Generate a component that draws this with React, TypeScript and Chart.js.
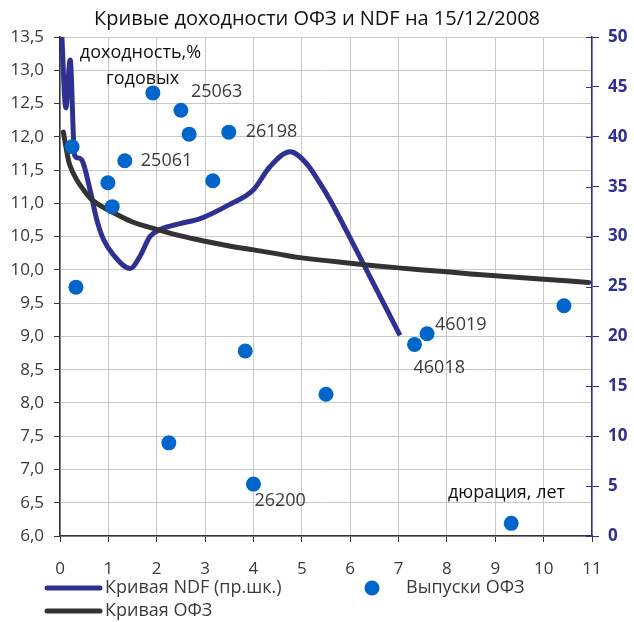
import React, { useEffect, useRef } from "react";
import { Chart, registerables } from "chart.js";

Chart.register(...registerables);

const TITLE = "Кривые доходности ОФЗ и NDF на 15/12/2008";

// OFZ issues: duration (years) and yield (%)
const issueDur = [0.25, 0.33, 0.99, 1.08, 1.34, 1.92, 2.25, 2.5, 2.67, 3.16, 3.49, 3.83, 4.0, 5.5, 7.33, 7.59, 9.33, 10.42];
const issueYield = [11.85, 9.74, 11.31, 10.95, 11.64, 12.66, 7.4, 12.4, 12.04, 11.34, 12.07, 8.78, 6.78, 8.13, 8.88, 9.04, 6.19, 9.46];
const issueNames = ["", "", "", "", "25061", "", "", "25063", "", "", "26198", "", "26200", "", "46018", "46019", "", ""];

// OFZ yield curve (left axis)
const ofzDur = [0.07, 0.14, 0.2, 0.34, 0.5, 0.62, 0.8, 1.0, 1.5, 2.0, 2.5, 3.0, 3.5, 4.0, 4.5, 5.0, 6.0, 7.0, 8.0, 9.0, 10.0, 10.93];
const ofzYield = [12.07, 11.78, 11.58, 11.36, 11.19, 11.08, 10.98, 10.9, 10.72, 10.61, 10.51, 10.43, 10.36, 10.3, 10.24, 10.18, 10.1, 10.03, 9.97, 9.91, 9.86, 9.81];

// NDF curve (right axis)
const ndfDur = [0.03, 0.12, 0.21, 0.3, 0.36, 0.46, 0.62, 0.76, 0.9, 1.1, 1.45, 1.65, 1.86, 2.07, 2.48, 2.9, 3.5, 4.0, 4.34, 4.76, 5.1, 5.38, 5.58, 6.27, 7.03];
const ndfYield = [51.0, 42.9, 47.7, 38.2, 37.9, 37.6, 34.7, 31.7, 29.7, 28.2, 26.8, 28.0, 30.0, 30.7, 31.3, 31.8, 33.2, 34.7, 37.0, 38.5, 37.3, 35.3, 33.7, 27.3, 20.1];

const LABEL_NDF = "Кривая NDF (пр.шк.)";
const LABEL_OFZ = "Кривая ОФЗ";
const LABEL_ISSUES = "Выпуски ОФЗ";

const NDF_COLOR = "#2e3192";
const OFZ_COLOR = "#333333";
const DOT_COLOR = "#0066cc";
const TEXT_COLOR = "#3a3a3a";
const GRID_COLOR = "#c8c8c8";
const FONT = '"Open Sans", "Noto Sans", sans-serif';

const LABEL_OFFSETS: Record<string, [number, number]> = {
  "25061": [16, 0],
  "25063": [10, -18],
  "26198": [17, 0],
  "26200": [1, 17],
  "46018": [-1, 23],
  "46019": [8, -9],
};

const ANNOTATIONS = [
  { text: "доходность,%", x: 0.41, y: 13.26 },
  { text: "годовых", x: 0.95, y: 12.87 },
  { text: "дюрация, лет", x: 8.02, y: 6.65 },
];

const overlayPlugin = {
  id: "overlay",
  afterDatasetsDraw(chart: any) {
    const { ctx, chartArea } = chart;
    const x = chart.scales.x;
    const y = chart.scales.y;
    const y2 = chart.scales.y2;
    ctx.save();
    ctx.strokeStyle = NDF_COLOR;
    ctx.lineWidth = 1;
    y2.ticks.forEach((t: any) => {
      const py = Math.round(y2.getPixelForValue(t.value)) + 0.5;
      ctx.beginPath();
      ctx.moveTo(chartArea.right - 6, py);
      ctx.lineTo(chartArea.right, py);
      ctx.stroke();
    });
    ctx.font = `18px ${FONT}`;
    ctx.fillStyle = TEXT_COLOR;
    ctx.textAlign = "left";
    ctx.textBaseline = "middle";
    issueNames.forEach((n, i) => {
      if (!n) return;
      const off = LABEL_OFFSETS[n] || [16, 0];
      ctx.fillText(n, x.getPixelForValue(issueDur[i]) + off[0], y.getPixelForValue(issueYield[i]) + off[1]);
    });
    ctx.fillStyle = "#111111";
    ANNOTATIONS.forEach((a) => {
      ctx.fillText(a.text, x.getPixelForValue(a.x), y.getPixelForValue(a.y));
    });
    ctx.restore();
  },
  afterDraw(chart: any) {
    const { ctx } = chart;
    const ds = chart.data.datasets;
    const find = (l: string) => ds.find((d: any) => d.label === l);
    ctx.save();
    ctx.font = `18px ${FONT}`;
    ctx.textAlign = "left";
    ctx.textBaseline = "middle";
    const drawLineItem = (label: string, yy: number) => {
      const d = find(label);
      ctx.strokeStyle = d.borderColor;
      ctx.lineWidth = 5;
      ctx.lineCap = "round";
      ctx.beginPath();
      ctx.moveTo(47, yy);
      ctx.lineTo(100, yy);
      ctx.stroke();
      ctx.fillStyle = TEXT_COLOR;
      ctx.fillText(label, 105, yy);
    };
    drawLineItem(LABEL_NDF, 588);
    drawLineItem(LABEL_OFZ, 611);
    const d = find(LABEL_ISSUES);
    ctx.fillStyle = d.backgroundColor;
    ctx.beginPath();
    ctx.arc(372, 588, 7.5, 0, Math.PI * 2);
    ctx.fill();
    ctx.fillStyle = TEXT_COLOR;
    ctx.fillText(LABEL_ISSUES, 406, 588);
    ctx.restore();
  },
};

export default function App() {
  const ref = useRef<HTMLCanvasElement | null>(null);
  useEffect(() => {
    if (!ref.current) return;
    const chart = new Chart(ref.current, {
      type: "line",
      data: {
        datasets: [
          {
            type: "scatter",
            label: LABEL_ISSUES,
            data: issueDur.map((v, i) => ({ x: v, y: issueYield[i] })),
            backgroundColor: DOT_COLOR,
            borderColor: DOT_COLOR,
            pointRadius: 7.5,
            pointBorderWidth: 0,
            yAxisID: "y",
            order: 0,
          } as any,
          {
            label: LABEL_OFZ,
            data: ofzDur.map((v, i) => ({ x: v, y: ofzYield[i] })),
            borderColor: OFZ_COLOR,
            backgroundColor: OFZ_COLOR,
            borderWidth: 5,
            pointRadius: 0,
            tension: 0.4,
            borderCapStyle: "round",
            yAxisID: "y",
            order: 1,
          },
          {
            label: LABEL_NDF,
            data: ndfDur.map((v, i) => ({ x: v, y: ndfYield[i] })),
            borderColor: NDF_COLOR,
            backgroundColor: NDF_COLOR,
            borderWidth: 5,
            pointRadius: 0,
            cubicInterpolationMode: "monotone",
            borderJoinStyle: "round",
            yAxisID: "y2",
            order: 2,
          },
        ],
      },
      options: {
        animation: false,
        responsive: true,
        maintainAspectRatio: false,
        layout: { padding: 0 },
        plugins: {
          legend: { display: false },
          tooltip: { enabled: false },
          title: {
            display: true,
            text: TITLE,
            color: "#111111",
            font: { family: FONT, size: 20, weight: "normal" },
            padding: { top: 7, bottom: 6 },
          },
        },
        scales: {
          x: {
            type: "linear",
            min: 0,
            max: 11,
            ticks: { stepSize: 1, color: TEXT_COLOR, font: { family: FONT, size: 17 }, padding: 17 },
            grid: { color: GRID_COLOR, tickColor: "#333333", tickLength: 6 },
            border: { color: "#333333", width: 1.5 },
            afterFit: (s: any) => {
              s.height = 86;
            },
          },
          y: {
            position: "left",
            min: 6,
            max: 13.5,
            ticks: {
              stepSize: 0.5,
              color: TEXT_COLOR,
              font: { family: FONT, size: 17 },
              padding: 10,
              callback: (v: any) => Number(v).toFixed(1).replace(".", ","),
            },
            grid: { color: GRID_COLOR, tickColor: "#333333", tickLength: 6 },
            border: { color: "#333333", width: 1.5 },
            afterFit: (s: any) => {
              s.width = 60;
            },
          },
          y2: {
            position: "right",
            min: 0,
            max: 50,
            ticks: { stepSize: 5, color: NDF_COLOR, font: { family: FONT, size: 17, weight: "bold" }, padding: 9 },
            grid: { drawOnChartArea: false, tickColor: NDF_COLOR, tickLength: 7 },
            border: { color: NDF_COLOR, width: 1.5 },
            afterFit: (s: any) => {
              s.width = 42;
            },
          },
        },
      },
      plugins: [overlayPlugin],
    } as any);
    return () => chart.destroy();
  }, []);
  return (
    <div style={{ position: "fixed", left: 0, top: 0, width: 634, height: 622, background: "#ffffff" }}>
      <canvas ref={ref} />
    </div>
  );
}
